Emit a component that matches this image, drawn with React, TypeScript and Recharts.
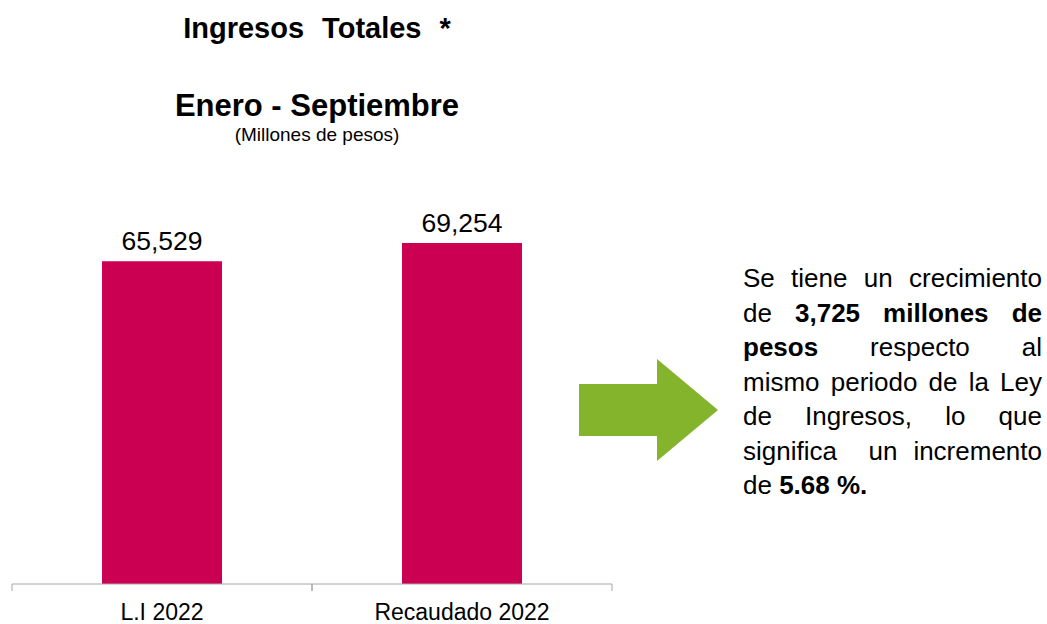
import { Bar, BarChart, LabelList, XAxis, YAxis } from 'recharts';

const categories = ['L.I 2022', 'Recaudado 2022'];
const ingresos = [65529, 69254];

const data = categories.map((name, i) => ({ name, value: ingresos[i] }));

const FONT = '"Liberation Sans", Arial, sans-serif';
const AXIS_GREY = '#A6A6A6';

function EdgeTick(props: any) {
  const { x, y, payload } = props;
  const half = payload && payload.offset ? payload.offset : 150;
  return (
    <g>
      <line x1={x - half} x2={x - half} y1={y - 11} y2={y - 4} stroke={AXIS_GREY} />
      <line x1={x + half} x2={x + half} y1={y - 11} y2={y - 4} stroke={AXIS_GREY} />
      <text x={x} y={y + 25} textAnchor="middle" fontSize={23} fill="#000" fontFamily={FONT}>
        {payload.value}
      </text>
    </g>
  );
}

const lineStyle: React.CSSProperties = {
  position: 'absolute',
  left: 743,
  width: 299,
  fontSize: 26,
  lineHeight: '34.5px',
  whiteSpace: 'nowrap',
  textAlign: 'justify',
  textAlignLast: 'justify',
  color: '#000',
};

export default function App() {
  const top0 = 261;
  const lh = 34.5;
  return (
    <div
      style={{
        position: 'absolute',
        left: 0,
        top: 0,
        width: 1047,
        height: 624,
        background: '#fff',
        fontFamily: FONT,
      }}
    >
      <BarChart
        width={1047}
        height={624}
        data={data}
        margin={{ top: 190, right: 435, bottom: 10, left: 12 }}
        barCategoryGap="30%"
      >
        <YAxis hide domain={[0, 80000]} />
        <XAxis
          dataKey="name"
          axisLine={{ stroke: AXIS_GREY }}
          tickLine={false}
          tickSize={9}
          tickMargin={2}
          interval={0}
          tick={<EdgeTick />}
        />
        <Bar dataKey="value" fill="#CC0052" isAnimationActive={false}>
          <LabelList
            dataKey="value"
            position="top"
            offset={11}
            fontSize={26.5}
            fill="#000"
            fontFamily={FONT}
            formatter={(v: any) => Number(v).toLocaleString('en-US')}
          />
        </Bar>
      </BarChart>

      <svg
        width={1047}
        height={624}
        style={{ position: 'absolute', left: 0, top: 0, pointerEvents: 'none' }}
      >
        <text x={317} y={38} textAnchor="middle" fontSize={29} fontWeight="bold" wordSpacing={10} fontFamily={FONT}>
          Ingresos Totales *
        </text>
        <text x={317} y={116} textAnchor="middle" fontSize={31} fontWeight="bold" fontFamily={FONT}>
          Enero - Septiembre
        </text>
        <text x={317} y={141} textAnchor="middle" fontSize={19} fontFamily={FONT}>
          (Millones de pesos)
        </text>
        <polygon
          points="579,384 657,384 657,359 718,410 657,461 657,436 579,436"
          fill="#84B42C"
        />
      </svg>

      <div style={{ ...lineStyle, top: top0 }}>Se tiene un crecimiento</div>
      <div style={{ ...lineStyle, top: top0 + lh }}>
        de <b>3,725 millones de</b>
      </div>
      <div style={{ ...lineStyle, top: top0 + lh * 2 }}>
        <b>pesos</b> respecto al
      </div>
      <div style={{ ...lineStyle, top: top0 + lh * 3 }}>mismo periodo de la Ley</div>
      <div style={{ ...lineStyle, top: top0 + lh * 4 }}>de Ingresos, lo que</div>
      <div style={{ ...lineStyle, top: top0 + lh * 5 }}>significa&nbsp; un incremento</div>
      <div style={{ ...lineStyle, top: top0 + lh * 6, textAlign: 'left', textAlignLast: 'left' }}>
        de <b>5.68 %.</b>
      </div>
    </div>
  );
}
